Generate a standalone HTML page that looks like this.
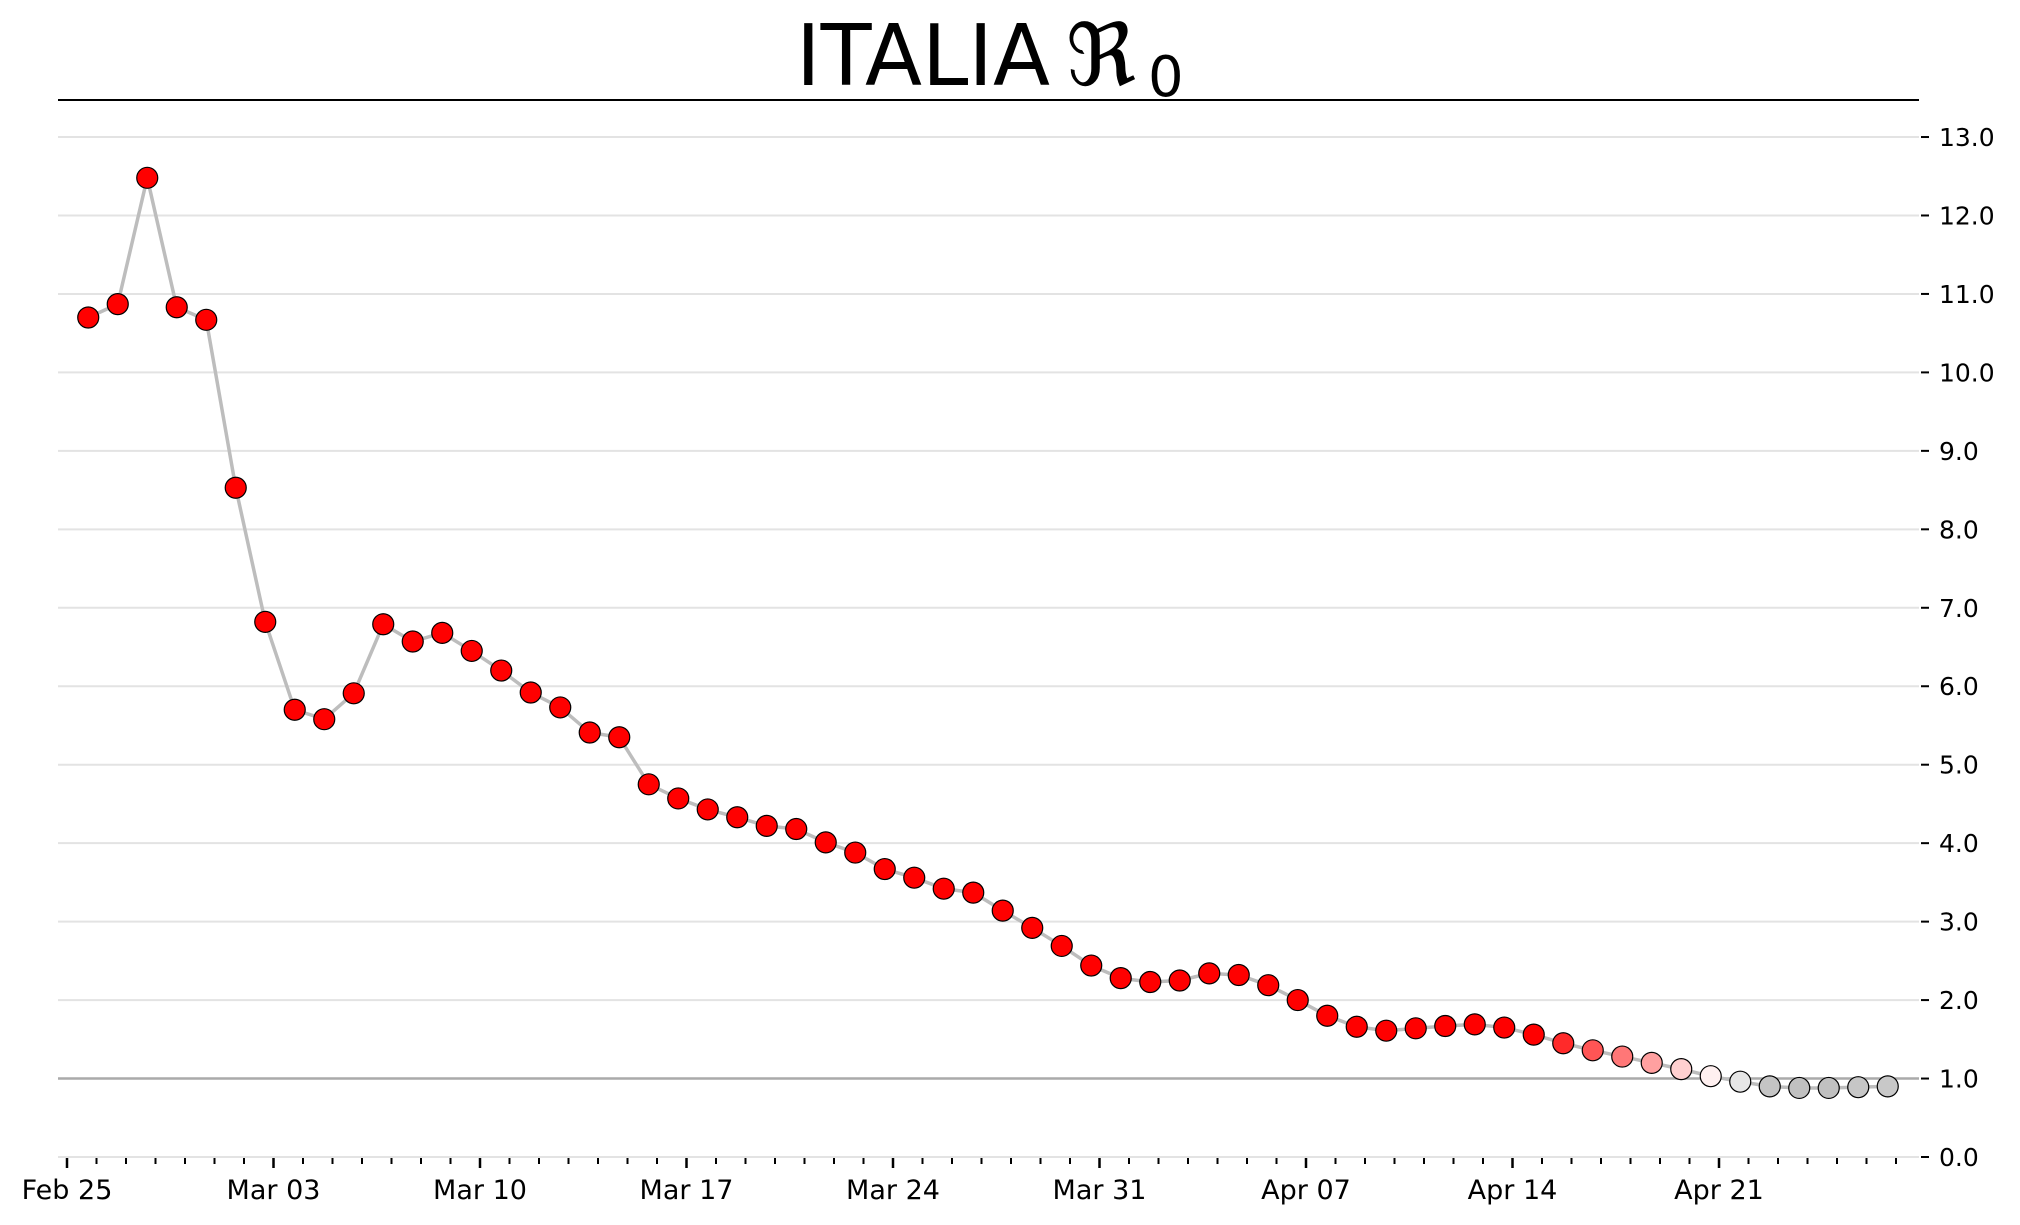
<!DOCTYPE html>
<html><head><meta charset="utf-8"><style>
html,body{margin:0;padding:0;background:#fff;}
svg{display:block;font-family:"DejaVu Sans","Liberation Sans",sans-serif;}
</style></head><body>
<svg id="chart" width="2020" height="1225" viewBox="0 0 2020 1225" xmlns="http://www.w3.org/2000/svg">
<g>
<text x="796" y="85" font-size="85" fill="#000" textLength="254" lengthAdjust="spacingAndGlyphs">ITALIA</text>
<text x="1066" y="85" font-size="86" font-family="'DejaVu Serif',serif" fill="#000">ℜ</text>
<text x="1148" y="96" font-size="56" fill="#000">0</text>
</g>
<line x1="58" y1="100" x2="1919" y2="100" stroke="#000" stroke-width="2"/>
<g id="grid"></g><g id="axes"></g><g id="series"></g>
</svg>
<script>
const dates=["Feb 26","Feb 27","Feb 28","Feb 29","Mar 01","Mar 02","Mar 03","Mar 04","Mar 05","Mar 06","Mar 07","Mar 08","Mar 09","Mar 10","Mar 11","Mar 12","Mar 13","Mar 14","Mar 15","Mar 16","Mar 17","Mar 18","Mar 19","Mar 20","Mar 21","Mar 22","Mar 23","Mar 24","Mar 25","Mar 26","Mar 27","Mar 28","Mar 29","Mar 30","Mar 31","Apr 01","Apr 02","Apr 03","Apr 04","Apr 05","Apr 06","Apr 07","Apr 08","Apr 09","Apr 10","Apr 11","Apr 12","Apr 13","Apr 14","Apr 15","Apr 16","Apr 17","Apr 18","Apr 19","Apr 20","Apr 21","Apr 22","Apr 23","Apr 24","Apr 25","Apr 26","Apr 27"];
const r0=[10.7,10.87,12.48,10.83,10.67,8.53,6.82,5.7,5.58,5.91,6.79,6.57,6.68,6.45,6.2,5.92,5.73,5.41,5.35,4.75,4.57,4.43,4.33,4.22,4.18,4.01,3.88,3.67,3.56,3.42,3.37,3.14,2.92,2.69,2.44,2.28,2.23,2.25,2.34,2.32,2.19,2.0,1.8,1.66,1.61,1.64,1.67,1.69,1.65,1.56,1.45,1.36,1.28,1.2,1.12,1.03,0.96,0.9,0.88,0.88,0.89,0.9];
const colors=["red","red","red","red","red","red","red","red","red","red","red","red","red","red","red","red","red","red","red","red","red","red","red","red","red","red","red","red","red","red","red","red","red","red","red","red","red","red","red","red","red","red","red","red","red","red","red","red","red","red","#ff2a2a","#ff5555","#ff7777","#ffa0a0","#ffd0d0","#fff0f0","#e6e6e6","#c4c4c4","#c0c0c0","#c0c0c0","#c6c6c6","#c8c8c8"];
const yTicks=[0,1,2,3,4,5,6,7,8,9,10,11,12,13];
const xTickLabels=["Feb 25","Mar 03","Mar 10","Mar 17","Mar 24","Mar 31","Apr 07","Apr 14","Apr 21"];
const NS="http://www.w3.org/2000/svg";
const X0=67,DAY=29.5,Y0=1157,UNIT=78.46,OFF=0.72;
const xs=i=>X0+(i+OFF)*DAY;
const ys=v=>Y0-v*UNIT;
function mk(t,a,p){const e=document.createElementNS(NS,t);for(const k in a)e.setAttribute(k,a[k]);p.appendChild(e);return e;}
const grid=document.getElementById('grid'),axes=document.getElementById('axes'),ser=document.getElementById('series');
yTicks.forEach(v=>{
 const g=mk('line',{x1:58,x2:1919,y1:ys(v),y2:ys(v),stroke:v===1?'#aaaaaa':'#e3e3e3','stroke-width':v===1?2.5:2},grid);
 
 
 const t=mk('line',{x1:1921,x2:1929,y1:ys(v),y2:ys(v),stroke:'#000','stroke-width':2},axes);
 
 
 const l=mk('text',{x:1939,y:ys(v)+9,'font-size':25,fill:'#000'},axes);
 l.textContent=v.toFixed(1);
 
 
});
for(let d=0;d<=62;d++){
 const major=d%7===0;
 const t=mk('line',{x1:X0+d*DAY,x2:X0+d*DAY,y1:1158,y2:major?1168:1164,stroke:'#000','stroke-width':major?2.5:2},axes);
 
 
}
xTickLabels.forEach((s,k)=>{
 const l=mk('text',{x:X0+k*7*DAY,y:1199,'font-size':27,'text-anchor':'middle',fill:'#000'},axes);
 l.textContent=s;
 
 
});
const line=mk('polyline',{points:r0.map((v,i)=>xs(i)+','+ys(v)).join(' '),fill:'none',stroke:'#bdbdbd','stroke-width':3.5},ser);


r0.forEach((v,i)=>{
 const c=mk('circle',{cx:xs(i),cy:ys(v),r:10.5,fill:colors[i],stroke:'#000','stroke-width':1.2},ser);
 
 
});
</script>
</body></html>
